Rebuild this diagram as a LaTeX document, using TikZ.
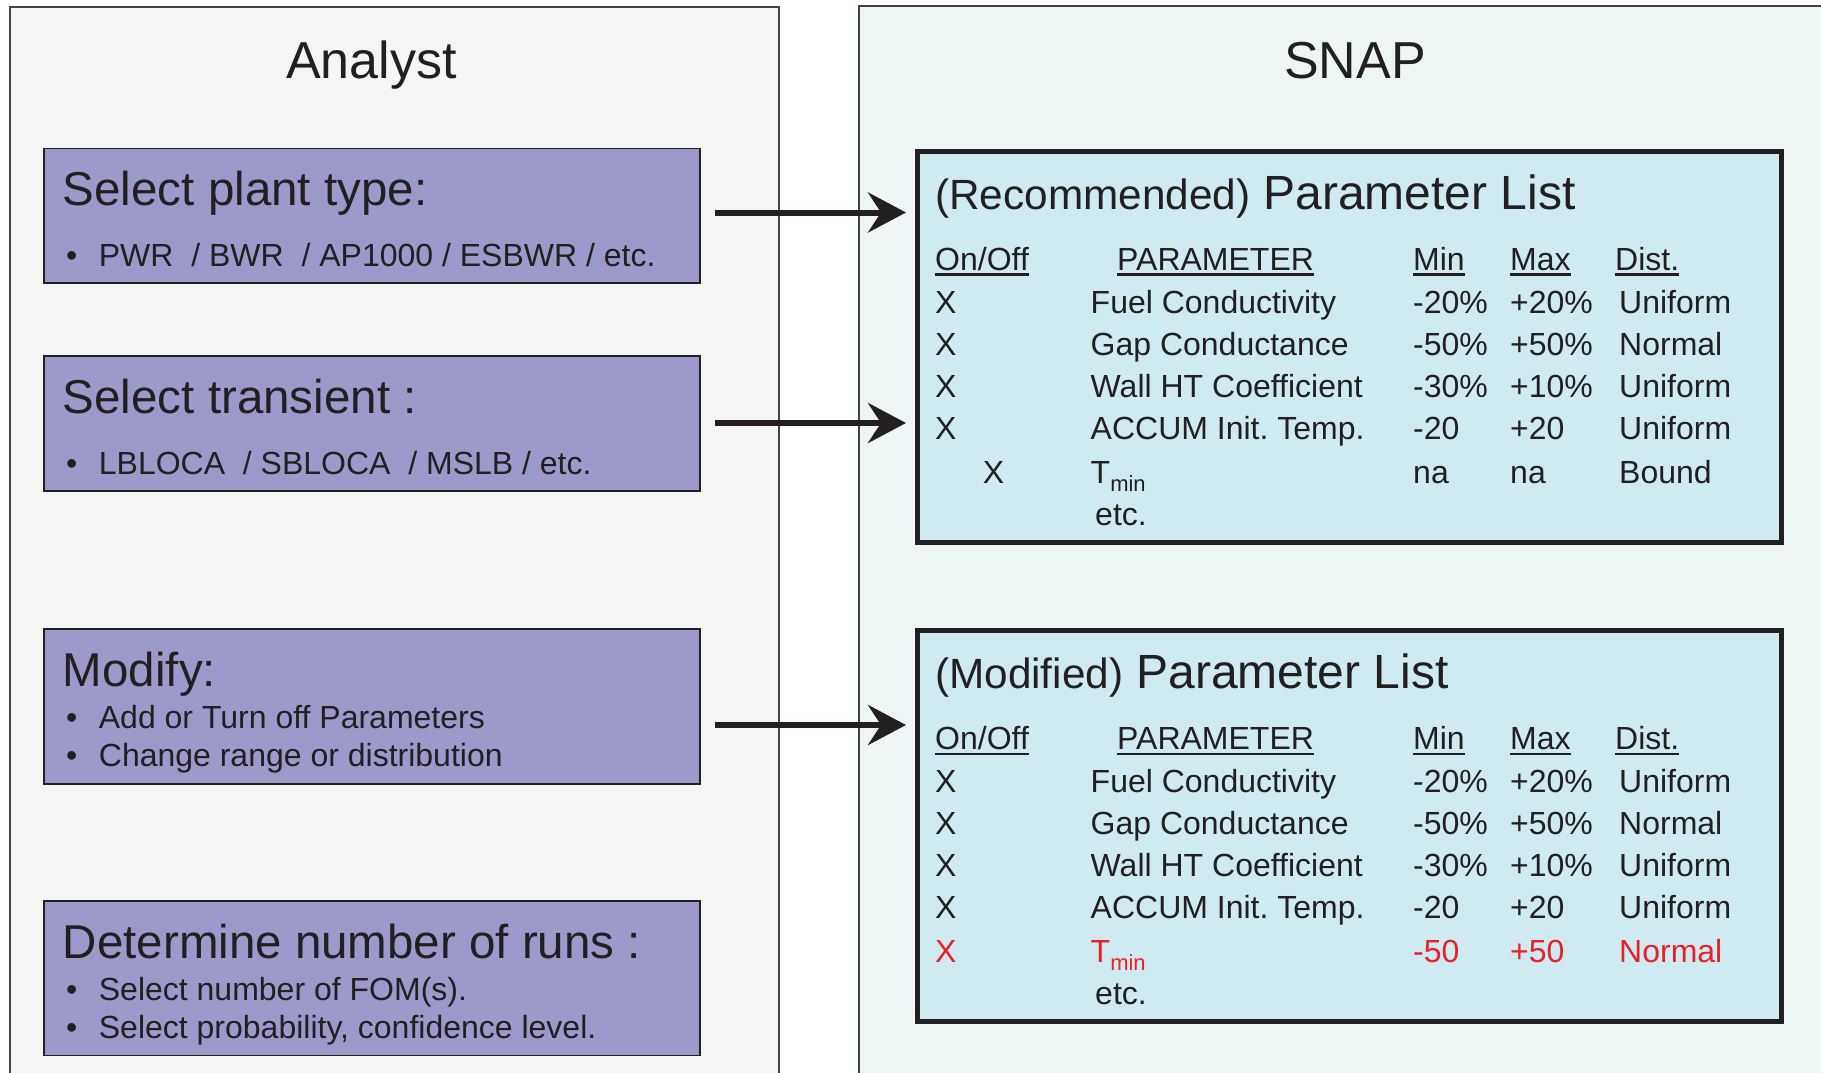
\documentclass[tikz,border=0pt]{standalone}
\usepackage{fontspec}
\setmainfont{Liberation Sans}
\usetikzlibrary{arrows.meta}
\frenchspacing
\definecolor{ink}{HTML}{231F20}
\definecolor{panelL}{HTML}{F5F5F5}
\definecolor{panelR}{HTML}{EEF6F5}
\definecolor{lav}{HTML}{9B9ACB}
\definecolor{tabfill}{HTML}{CFEBF1}
\definecolor{redx}{HTML}{E8202A}
\newcommand\ulx[1]{\setbox0\hbox{#1}\rlap{\rule[-5pt]{\wd0}{2.2pt}}\box0}
\newcommand\tmin{T{\fontsize{22}{24}\selectfont\raisebox{-8pt}{min}}}
\tikzset{
  txt/.style={anchor=base west, inner sep=0pt, text=ink, font=\fontsize{32}{36}\selectfont},
  ttl/.style={txt, font=\fontsize{47.5}{50}\selectfont},
  tabttl/.style={txt, font=\fontsize{48}{50}\selectfont},
  head/.style={anchor=base, inner sep=0pt, text=ink, font=\fontsize{52}{56}\selectfont},
  panel/.style={draw=ink!85, line width=1.5pt},
  lavbox/.style={draw=ink, line width=1.8pt, fill=lav, anchor=north west, inner sep=0pt},
  tabbox/.style={draw=ink, line width=5pt, fill=tabfill, anchor=north west, inner sep=0pt},
  arr/.style={draw=ink, line width=6pt, -{Stealth[length=38pt, width=40pt, inset=13pt]}, shorten >=9pt},
  redt/.style={text=redx}
}
\newcommand\ptable[3]{%
  \node[tabbox, minimum width=864pt, minimum height=391pt] (#2box) at (915,{148.7+#1}) {};
  \node[tabttl] (#2title) at (935,{209+#1}) {{\fontsize{42.3}{46}\selectfont #3} Parameter List};
  \node[txt] (#2h1) at (935,{270.6+#1}) {\ulx{On/Off}};
  \node[txt] (#2h2) at (1117,{270.6+#1}) {\ulx{PARAMETER}};
  \node[txt] (#2h3) at (1413,{270.6+#1}) {\ulx{Min}};
  \node[txt] (#2h4) at (1510,{270.6+#1}) {\ulx{Max}};
  \node[txt] (#2h5) at (1615,{270.6+#1}) {\ulx{Dist.}};
  \node[txt] (#2ax) at (935,{313.6+#1}) {X};
  \node[txt] (#2ap) at (1090.5,{313.6+#1}) {Fuel Conductivity};
  \node[txt] (#2an) at (1413,{313.6+#1}) {-20\%};
  \node[txt] (#2am) at (1510,{313.6+#1}) {+20\%};
  \node[txt] (#2ad) at (1619,{313.6+#1}) {Uniform};
  \node[txt] (#2bx) at (935,{355.4+#1}) {X};
  \node[txt] (#2bp) at (1090.5,{355.4+#1}) {Gap Conductance};
  \node[txt] (#2bn) at (1413,{355.4+#1}) {-50\%};
  \node[txt] (#2bm) at (1510,{355.4+#1}) {+50\%};
  \node[txt] (#2bd) at (1619,{355.4+#1}) {Normal};
  \node[txt] (#2cx) at (935,{397+#1}) {X};
  \node[txt] (#2cp) at (1090.5,{397+#1}) {Wall HT Coefficient};
  \node[txt] (#2cn) at (1413,{397+#1}) {-30\%};
  \node[txt] (#2cm) at (1510,{397+#1}) {+10\%};
  \node[txt] (#2cd) at (1619,{397+#1}) {Uniform};
  \node[txt] (#2dx) at (935,{439+#1}) {X};
  \node[txt] (#2dp) at (1090.5,{439+#1}) {ACCUM Init. Temp.};
  \node[txt] (#2dn) at (1413,{439+#1}) {-20};
  \node[txt] (#2dm) at (1510,{439+#1}) {+20};
  \node[txt] (#2dd) at (1619,{439+#1}) {Uniform};
  \node[txt] (#2etc) at (1095,{525+#1}) {etc.};
}
\begin{document}
\begin{tikzpicture}[x=1pt, y=-1pt]
\clip (0,0) rectangle (1821,1073);
\fill[white] (0,0) rectangle (1821,1073);
% panels
\path[panel, fill=panelL] (10,7) rectangle (779,1090);
\path[panel, fill=panelR] (859,6) rectangle (1840,1090);
\node[head] (analyst) at (371.5,78) {Analyst};
\node[head] (snap) at (1355,78) {SNAP};
% analyst boxes
\node[lavbox, minimum width=656pt, minimum height=134.5pt] (b1) at (43,147.5) {};
\node[ttl] (b1t) at (62.7,205.6) {Select plant type:};
\node[txt] (b1a) at (66,266) {\textbullet};
\node[txt] (b1b) at (98.7,266) {PWR\ \ / BWR\ \ / AP1000 / ESBWR / etc.};
\node[lavbox, minimum width=656pt, minimum height=134.5pt] (b2) at (43,355.4) {};
\node[ttl] (b2t) at (62.7,413.5) {Select transient :};
\node[txt] (b2a) at (66,474) {\textbullet};
\node[txt] (b2b) at (98.7,474) {LBLOCA\ \ / SBLOCA\ \ / MSLB / etc.};
\node[lavbox, minimum width=656pt, minimum height=155pt] (b3) at (43,628) {};
\node[ttl] (b3t) at (62.7,686) {Modify:};
\node[txt] (b3a) at (66,728) {\textbullet};
\node[txt] (b3b) at (98.7,728) {Add or Turn off Parameters};
\node[txt] (b3c) at (66,766.5) {\textbullet};
\node[txt] (b3d) at (98.7,766.5) {Change range or distribution};
\node[lavbox, minimum width=656pt, minimum height=154.5pt] (b4) at (43,900) {};
\node[ttl] (b4t) at (62.7,958) {Determine number of runs :};
\node[txt] (b4a) at (66,1000) {\textbullet};
\node[txt] (b4b) at (98.7,1000) {Select number of FOM(s).};
\node[txt] (b4c) at (66,1038) {\textbullet};
\node[txt] (b4d) at (98.7,1038) {Select probability, confidence level.};
% tables
\ptable{0}{r}{(Recommended)}
\node[txt] (rex) at (982.6,483) {X};
\node[txt] (rep) at (1090.5,483) {\tmin};
\node[txt] (ren) at (1413,483) {na};
\node[txt] (rem) at (1510,483) {na};
\node[txt] (red) at (1619,483) {Bound};
\ptable{479.3}{m}{(Modified)}
\node[txt, redt] (mex) at (935,962.3) {X};
\node[txt, redt] (mep) at (1090.5,962.3) {\tmin};
\node[txt, redt] (men) at (1413,962.3) {-50};
\node[txt, redt] (mem) at (1510,962.3) {+50};
\node[txt, redt] (med) at (1619,962.3) {Normal};
% arrows
\coordinate (a1) at (715,212.5);
\coordinate (a2) at (715,423);
\coordinate (a3) at (715,725);
\draw[arr] (a1) -- (a1 -| rbox.west);
\draw[arr] (a2) -- (a2 -| rbox.west);
\draw[arr] (a3) -- (a3 -| mbox.west);
\end{tikzpicture}
\end{document}
